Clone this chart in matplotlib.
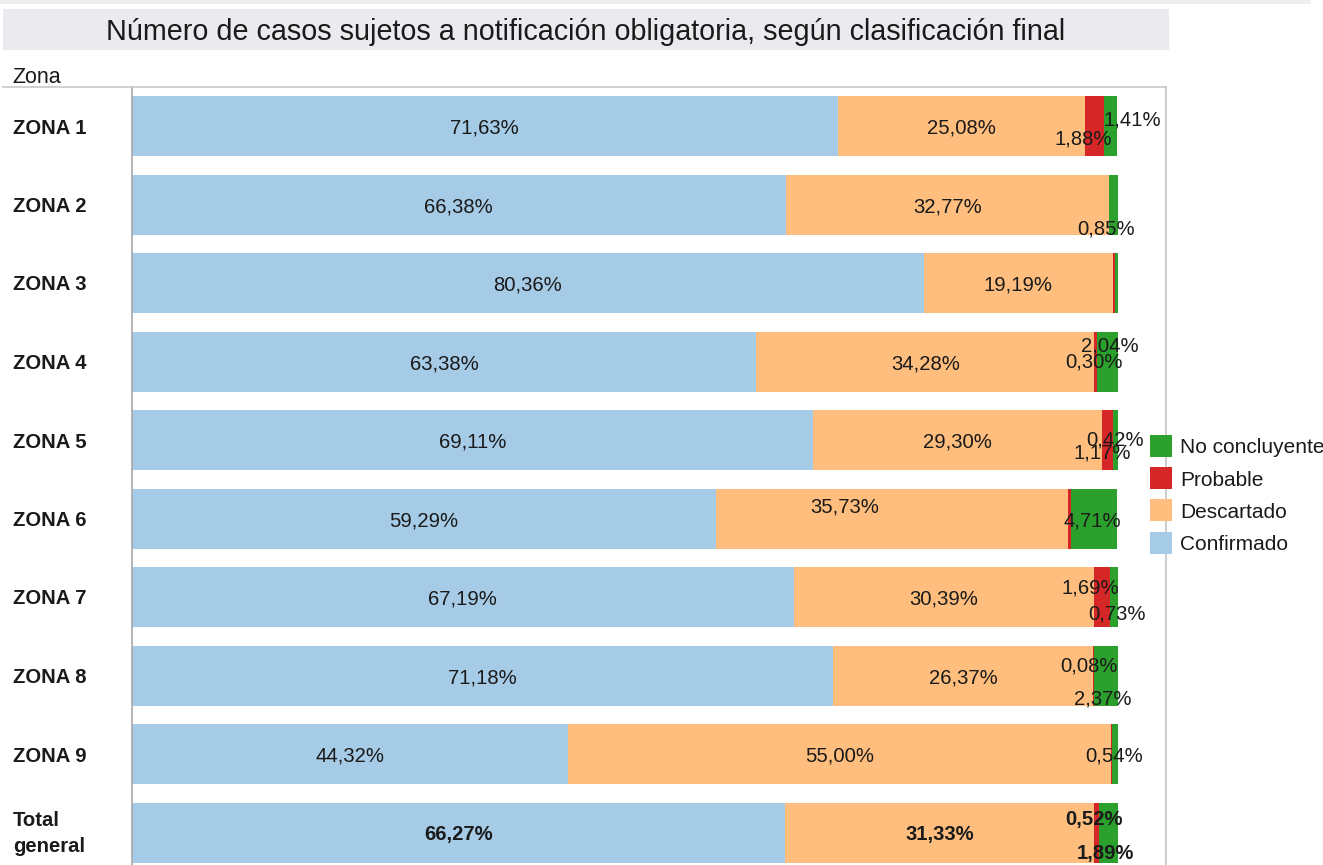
import matplotlib
matplotlib.use("Agg")
import matplotlib.pyplot as plt
from matplotlib.patches import Rectangle
from matplotlib.lines import Line2D

plt.rcParams['font.family'] = ['Liberation Sans', 'DejaVu Sans']

# ---- data ----
zones = ["ZONA 1", "ZONA 2", "ZONA 3", "ZONA 4", "ZONA 5", "ZONA 6",
         "ZONA 7", "ZONA 8", "ZONA 9", "Total\ngeneral"]
series = ["Confirmado", "Descartado", "Probable", "No concluyente"]
confirmado = [71.63, 66.38, 80.36, 63.38, 69.11, 59.29, 67.19, 71.18, 44.32, 66.27]
descartado = [25.08, 32.77, 19.19, 34.28, 29.30, 35.73, 30.39, 26.37, 55.00, 31.33]
probable = [1.88, 0.00, 0.15, 0.30, 1.17, 0.27, 1.69, 0.08, 0.14, 0.52]
no_concluyente = [1.41, 0.85, 0.30, 2.04, 0.42, 4.71, 0.73, 2.37, 0.54, 1.89]
colors = ["#A6CBE6", "#FFBE7D", "#D62728", "#2CA02C"]

title = "Número de casos sujetos a notificación obligatoria, según clasificación final"

# label offsets (pixels) for labels shown; key = (row, series index)
label_offsets = {
    (0, 2): (-11, -11), (0, 3): (22, 8),
    (1, 3): (-7, -22.5),
    (3, 2): (-2, 1.5), (3, 3): (2, 18),
    (4, 2): (-5, -11), (4, 3): (0, 2.5),
    (5, 1): (-48, 14), (5, 3): (-2, 0),
    (6, 2): (-12, 11), (6, 3): (3, -15),
    (7, 2): (-5, 11.5), (7, 3): (-3, -21.5),
    (8, 3): (-1, 0),
    (9, 2): (-2, 15), (9, 3): (-3, -18.5),
}

W, H = 1323, 865
fig = plt.figure(figsize=(W / 100, H / 100), dpi=100)

def fx(px):
    return px / W

def fy(py):
    return 1 - py / H

# top band and title box
fig.patches.append(Rectangle((0, fy(3.5)), fx(1311), 3.5 / H, transform=fig.transFigure,
                             facecolor="#EFEFEF", edgecolor="none", zorder=0))
fig.patches.append(Rectangle((fx(3), fy(49.5)), fx(1166), 40.5 / H, transform=fig.transFigure,
                             facecolor="#EBEBEF", edgecolor="none", zorder=0))
fig.text(fx(586), fy(29), title, ha="center", va="center_baseline", fontsize=20.7,
         color="#1a1a1a")
fig.text(fx(12), fy(75), "Zona", ha="left", va="center_baseline", fontsize=15.5,
         color="#1a1a1a")
fig.lines.append(Line2D([fx(3), fx(1166)], [fy(86.5), fy(86.5)], transform=fig.transFigure,
                        color="#C8C8C8", lw=1.2))

ax = fig.add_axes([fx(131.5), 0, (1166 - 131.5) / W, (H - 86.5) / H])
n = len(zones)
ys = list(range(n))
vals = [confirmado, descartado, probable, no_concluyente]
left = [0.0] * n
bar_h = 60 / 78.5
for si, (v, c) in enumerate(zip(vals, colors)):
    bars = ax.barh(ys, v, left=left, height=bar_h, color=c, edgecolor="none")
    for i, b in enumerate(bars):
        if v[i] <= 0:
            continue
        cx = left[i] + v[i] / 2
        show = si < 2 or (i, si) in label_offsets
        if not show:
            continue
        dx, dy = label_offsets.get((i, si), (0, 0))
        ax.annotate(f"{v[i]:.2f}%".replace(".", ","), (cx, i), xytext=(dx, dy),
                    textcoords="offset pixels", ha="center", va="center_baseline",
                    fontsize=14.6, color="#1a1a1a",
                    fontweight="bold" if i == n - 1 else "normal",
                    annotation_clip=False, zorder=5)
    left = [l + x for l, x in zip(left, v)]

px_per_unit = 78.5
ax.set_ylim(n - 1 + 32.5 / px_per_unit, -40 / px_per_unit)
ax.set_xlim(0, (1166 - 131.5) / 9.86)
ax.set_xticks([])
ax.set_yticks([])
for s in ["top", "bottom"]:
    ax.spines[s].set_visible(False)
ax.spines["left"].set_color("#A8A8A8")
ax.spines["left"].set_linewidth(1.2)
ax.spines["right"].set_color("#C4C4C4")
ax.spines["right"].set_linewidth(1.2)

# row labels
for i, z in enumerate(zones):
    ypx = 126 + 78.5 * i
    if "\n" in z:
        fig.text(fx(13), fy(ypx + 1), z, ha="left", va="center", fontsize=14.6,
                 fontweight="bold", color="#1a1a1a", linespacing=1.45)
    else:
        fig.text(fx(13), fy(ypx), z, ha="left", va="center_baseline", fontsize=14.6,
                 fontweight="bold", color="#1a1a1a")

# legend
for k, si in enumerate([3, 2, 1, 0]):
    yc = 446 + 32.2 * k
    fig.patches.append(Rectangle((fx(1149.5), fy(yc + 11)), 22.5 / W, 22 / H,
                                 transform=fig.transFigure, facecolor=colors[si],
                                 edgecolor="none"))
    fig.text(fx(1180), fy(yc), series[si], ha="left", va="center_baseline", fontsize=15,
             color="#1a1a1a")

fig.savefig("out.png", dpi=100)
